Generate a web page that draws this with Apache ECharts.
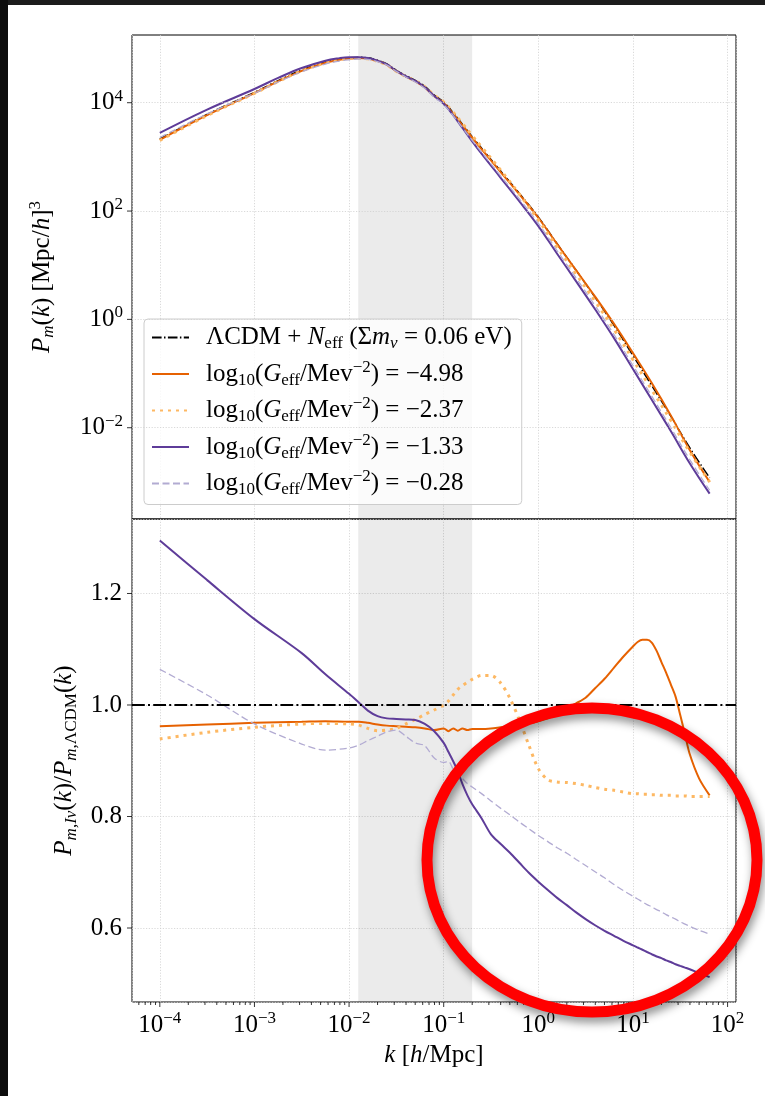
<!DOCTYPE html>
<html>
<head>
<meta charset="utf-8">
<script src="https://cdn.jsdelivr.net/npm/echarts@6.0.0/dist/echarts.min.js"></script>
<style>
  html, body { margin: 0; padding: 0; background: #ffffff; }
  #chart { width: 765px; height: 1096px; }
</style>
</head>
<body>
<div id="chart"></div>
<script>
// ---- matter power spectrum P_m(k) [ (Mpc/h)^3 ] ----
const kTop = [1.00e-4, 3.16e-4, 1.00e-3, 1.78e-3, 3.16e-3, 5.62e-3, 7.94e-3, 1.00e-2, 1.26e-2, 1.58e-2, 2.00e-2,
  2.51e-2, 3.16e-2, 3.98e-2, 5.01e-2, 6.31e-2, 7.94e-2, 0.100, 0.126, 0.158, 0.200, 0.251, 0.398, 0.631,
  1.00, 1.58, 2.51, 3.98, 6.31, 10.0, 15.8, 25.1, 39.8, 64.6];
const pLCDM = [2138, 6095, 15520, 25530, 40000, 56230, 63970, 67300, 69020, 67300, 60670, 52000, 39630, 31620,
  25880, 19950, 13900, 10300, 6531, 3981, 2366, 1455, 553, 211, 77.4, 24.9, 8.02, 2.55, 0.774, 0.215, 0.0600,
  0.0163, 0.00427, 0.00119];
const pG498 = [2057, 5882, 15020, 24740, 38800, 54600, 62050, 65280, 66950, 65150, 58550, 50080, 38120, 30390,
  24840, 19110, 13290, 9857, 6257, 3814, 2264, 1392, 531, 203, 75.2, 24.5, 8.04, 2.63, 0.826, 0.238, 0.0667,
  0.0169, 0.00389, 0.000997];
const pG237 = [2008, 5796, 14900, 24590, 38640, 54370, 61800, 65010, 66540, 64470, 57880, 49660, 37970, 30550,
  25210, 19610, 13770, 10300, 6649, 4120, 2475, 1532, 575, 205, 68.6, 21.5, 6.89, 2.17, 0.656, 0.181, 0.0503,
  0.0137, 0.00357, 0.000995];
const pG133 = [2769, 7460, 17910, 28670, 43720, 59720, 66530, 69180, 69370, 66960, 59760, 50860, 38640, 30800,
  25180, 19270, 13250, 9600, 5871, 3416, 1940, 1149, 416, 151, 52.8, 16.3, 5.04, 1.54, 0.451, 0.121, 0.0329,
  0.00867, 0.00221, 0.000606];
const pG028 = [2275, 6205, 14990, 24130, 37200, 51680, 58920, 62120, 64050, 62990, 57270, 49500, 37850, 29850,
  24120, 18490, 12580, 9239, 5780, 3456, 2018, 1224, 451, 167, 59.3, 18.5, 5.81, 1.79, 0.524, 0.141, 0.0383,
  0.0101, 0.00258, 0.000701];

// ---- ratio to the LCDM spectrum ----
const kRatio = [1.00e-4, 3.16e-4, 1.00e-3, 3.16e-3, 5.62e-3,
  1.00e-2, 1.26e-2, 1.58e-2, 2.00e-2, 2.51e-2, 3.16e-2, 3.98e-2, 5.01e-2, 6.31e-2, 7.94e-2,
  0.100, 0.112, 0.126, 0.141, 0.158, 0.178, 0.200,
  0.251, 0.316, 0.398, 0.501, 0.631, 0.794,
  1.00, 1.26, 1.58, 2.00, 2.51, 3.16, 3.98, 5.01, 6.31, 7.94,
  10.0, 11.2, 12.6, 14.1, 15.8, 17.8, 20.0, 22.4, 25.1, 28.2, 31.6, 35.5, 39.8,
  50.1, 64.6];
const rG498 = [0.962, 0.965, 0.968, 0.970, 0.971,
  0.970, 0.970, 0.968, 0.965, 0.963, 0.962, 0.961, 0.960, 0.958, 0.955,
  0.958, 0.953, 0.958, 0.954, 0.958, 0.955, 0.957,
  0.957, 0.958, 0.960, 0.962, 0.964, 0.967,
  0.971, 0.976, 0.985, 0.994, 1.003, 1.013, 1.030, 1.047, 1.067, 1.087,
  1.105, 1.113, 1.117, 1.117, 1.112, 1.097, 1.077, 1.058, 1.037, 1.015, 0.982, 0.947, 0.912,
  0.868, 0.838];
const rG237 = [0.939, 0.951, 0.960, 0.966, 0.967,
  0.966, 0.964, 0.958, 0.954, 0.955, 0.958, 0.966, 0.974, 0.983, 0.991,
  1.000, 1.007, 1.018, 1.028, 1.035, 1.041, 1.046,
  1.053, 1.053, 1.040, 1.012, 0.973, 0.928,
  0.886, 0.866, 0.862, 0.861, 0.859, 0.856, 0.852, 0.849, 0.847, 0.844,
  0.841, 0.841, 0.840, 0.840, 0.839, 0.839, 0.838, 0.838, 0.838, 0.837, 0.837, 0.837, 0.836,
  0.836, 0.836];
const rG133 = [1.295, 1.224, 1.154, 1.093, 1.055,
  1.020, 1.005, 0.990, 0.980, 0.976, 0.975, 0.974, 0.973, 0.966, 0.953,
  0.932, 0.916, 0.899, 0.881, 0.858, 0.838, 0.822,
  0.797, 0.768, 0.751, 0.735, 0.717, 0.699,
  0.683, 0.668, 0.654, 0.641, 0.628, 0.616, 0.605, 0.595, 0.586, 0.577,
  0.569, 0.565, 0.561, 0.557, 0.553, 0.549, 0.546, 0.542, 0.539, 0.535, 0.532, 0.529, 0.526,
  0.519, 0.512];
const rG028 = [1.064, 1.018, 0.966, 0.930, 0.919,
  0.923, 0.928, 0.936, 0.944, 0.952, 0.955, 0.944, 0.932, 0.927, 0.905,
  0.897, 0.899, 0.885, 0.876, 0.868, 0.859, 0.853,
  0.841, 0.828, 0.815, 0.803, 0.790, 0.778,
  0.766, 0.755, 0.744, 0.734, 0.723, 0.712, 0.701, 0.690, 0.678, 0.667,
  0.657, 0.652, 0.647, 0.642, 0.638, 0.633, 0.629, 0.624, 0.620, 0.616, 0.611, 0.607, 0.603,
  0.596, 0.589];
const ratioLCDM = 1.0;

// shaded k range and tick positions
const kBand = [0.0125, 0.2];
const topYTicks = [1e-2, 1e0, 1e2, 1e4];
const bottomYTicks = [0.6, 0.8, 1.0, 1.2];
const kMajorTicks = [1e-4, 1e-3, 1e-2, 1e-1, 1e0, 1e1, 1e2];
const kMinorTicks = [];
for (let e = -5; e <= 1; e++) {
  for (let m = 2; m <= 9; m++) kMinorTicks.push(m * Math.pow(10, e));
}

// axis ranges
const kMin = Math.pow(10, -4.294), kMax = Math.pow(10, 2.089);
const pMin = Math.pow(10, -3.685), pMax = Math.pow(10, 5.25);
const rMin = 0.4673, rMax = 1.3336;

const F = '"Liberation Serif", "DejaVu Serif", serif';
const FS = 25;
const SS = 17;

const colors = { lcdm: '#000000', g498: '#e66101', g237: '#fdb863', g133: '#5e3c99', g028: '#b2abd2' };
const styles = {
  lcdmTop: { color: colors.lcdm, width: 1.5, type: [9.6, 2.4, 1.5, 2.4] },
  lcdmBot: { color: colors.lcdm, width: 2, type: [12.8, 3.2, 2, 3.2] },
  g498: { color: colors.g498, width: 2 },
  g237: { color: colors.g237, width: 3, type: [3, 5] },
  g133: { color: colors.g133, width: 2 },
  g028: { color: colors.g028, width: 1.3, type: [7, 3.5] }
};

const zip = (xs, ys) => xs.map((x, i) => [x, ys[i]]);
const supStr = e => (e < 0 ? '\u2212' + (-e) : String(e));
const isDecade = v => Math.abs(Math.log10(v) - Math.round(Math.log10(v))) < 1e-6;

const richText = {
  n: { fontFamily: F, fontSize: FS, lineHeight: 30, color: '#000' },
  i: { fontFamily: F, fontSize: FS, fontStyle: 'italic', lineHeight: 30, color: '#000' },
  sub: { fontFamily: F, fontSize: SS, lineHeight: SS, verticalAlign: 'bottom', color: '#000' },
  subi: { fontFamily: F, fontSize: SS, fontStyle: 'italic', lineHeight: SS, verticalAlign: 'bottom', color: '#000' },
  sup: { fontFamily: F, fontSize: SS, lineHeight: SS, verticalAlign: 'top', color: '#000' },
  gap: { width: 12 },
  b: { fontFamily: F, fontSize: FS, lineHeight: 30, color: '#000' },
  s: { fontFamily: F, fontSize: SS, lineHeight: SS, verticalAlign: 'top', color: '#000' }
};

const legendText = {
  lcdm: '{gap|}{n|\u039BCDM + }{i|N}{sub|eff}{n| (\u03A3}{i|m}{subi|\u03BD}{n| = 0.06 eV)}',
  g498: '{gap|}{n|log}{sub|10}{n|(}{i|G}{sub|eff}{n|/Mev}{sup|\u22122}{n|) = \u22124.98}',
  g237: '{gap|}{n|log}{sub|10}{n|(}{i|G}{sub|eff}{n|/Mev}{sup|\u22122}{n|) = \u22122.37}',
  g133: '{gap|}{n|log}{sub|10}{n|(}{i|G}{sub|eff}{n|/Mev}{sup|\u22122}{n|) = \u22121.33}',
  g028: '{gap|}{n|log}{sub|10}{n|(}{i|G}{sub|eff}{n|/Mev}{sup|\u22122}{n|) = \u22120.28}'
};

const gridLine = { show: true, lineStyle: { color: '#cfcfcf', width: 0.8, type: [1.2, 1.6] } };

function lineSeries(name, xi, data, ls, smooth, extra) {
  return Object.assign({
    name: name, type: 'line', xAxisIndex: xi, yAxisIndex: xi, data: data,
    symbol: 'none', showSymbol: false, smooth: smooth, silent: true,
    lineStyle: ls, itemStyle: { color: ls.color }
  }, extra || {});
}

const band = {
  silent: true,
  itemStyle: { color: 'rgba(0,0,0,0.08)' },
  data: [[{ xAxis: kBand[0] }, { xAxis: kBand[1] }]]
};

// short outward tick marks drawn through the axis scales
function xTicks(gridIdx, values, len) {
  return {
    type: 'custom', xAxisIndex: gridIdx, yAxisIndex: gridIdx, silent: true, clip: false,
    data: values.filter(k => k > kMin && k < kMax).map(k => [k, 1]),
    renderItem: (params, api) => {
      const cs = params.coordSys;
      const x = api.coord([api.value(0), 1])[0];
      const yb = cs.y + cs.height;
      return { type: 'line', shape: { x1: x, y1: yb, x2: x, y2: yb + len }, style: { stroke: '#000', lineWidth: 0.8 } };
    }
  };
}
function yTicks(gridIdx, values, len) {
  return {
    type: 'custom', xAxisIndex: gridIdx, yAxisIndex: gridIdx, silent: true, clip: false,
    data: values.map(v => [1, v]),
    renderItem: (params, api) => {
      const cs = params.coordSys;
      const y = api.coord([1, api.value(1)])[1];
      return { type: 'line', shape: { x1: cs.x - len, y1: y, x2: cs.x, y2: y }, style: { stroke: '#000', lineWidth: 0.8 } };
    }
  };
}

const chart = echarts.init(document.getElementById('chart'), null, { renderer: 'canvas' });

chart.setOption({
  animation: false,
  backgroundColor: '#ffffff',
  grid: [
    { left: 132, top: 35, width: 604, height: 484, show: true, borderColor: '#000', borderWidth: 1, backgroundColor: 'transparent' },
    { left: 132, top: 519, width: 604, height: 483, show: true, borderColor: '#000', borderWidth: 1, backgroundColor: 'transparent' }
  ],
  xAxis: [
    {
      gridIndex: 0, type: 'log', min: kMin, max: kMax,
      axisLine: { show: false }, axisTick: { show: false }, axisLabel: { show: false },
      splitLine: gridLine
    },
    {
      gridIndex: 1, type: 'log', min: kMin, max: kMax,
      axisLine: { show: false },
      axisTick: { show: false },
      axisLabel: {
        margin: 8, fontFamily: F, fontSize: FS, color: '#000', rich: richText,
        formatter: v => isDecade(v) ? '{b|10}{s|' + supStr(Math.round(Math.log10(v))) + '}' : ''
      },
      splitLine: gridLine,
      name: '{i|k}{n| [}{i|h}{n|/Mpc]}',
      nameLocation: 'middle', nameGap: 38,
      nameTextStyle: { rich: richText, fontFamily: F, fontSize: FS }
    }
  ],
  yAxis: [
    {
      gridIndex: 0, type: 'log', min: pMin, max: pMax,
      axisLine: { show: false }, axisTick: { show: false },
      splitLine: { show: false },
      axisLabel: {
        margin: 9, fontFamily: F, fontSize: FS, color: '#000', rich: richText,
        formatter: v => {
          if (!isDecade(v)) return '';
          const e = Math.round(Math.log10(v));
          return Math.abs(e % 2) === 0 ? '{b|10}{s|' + supStr(e) + '}' : '';
        }
      },
      name: '{i|P}{subi|m}{n|(}{i|k}{n|) [Mpc/}{i|h}{n|]}{sup|3}',
      nameLocation: 'middle', nameRotate: 90, nameGap: 75,
      nameTextStyle: { rich: richText, fontFamily: F, fontSize: FS }
    },
    {
      gridIndex: 1, type: 'value', min: rMin, max: rMax,
      axisLine: { show: false },
      axisTick: { show: false },
      splitLine: gridLine,
      axisLabel: {
        margin: 10, fontFamily: F, fontSize: FS, color: '#000',
        formatter: v => Math.abs(v * 5 - Math.round(v * 5)) < 1e-6 ? v.toFixed(1) : ''
      },
      name: '{i|P}{subi|m,I\u03BD}{n|(}{i|k}{n|)/}{i|P}{subi|m,}{sub|\u039BCDM}{n|(}{i|k}{n|)}',
      nameLocation: 'middle', nameRotate: 90, nameGap: 49,
      nameTextStyle: { rich: richText, fontFamily: F, fontSize: FS }
    }
  ],
  legend: {
    orient: 'vertical', left: 144, top: 319,
    padding: [6, 10, 6, 7], itemGap: 6.5, itemWidth: 37, itemHeight: 14,
    backgroundColor: 'rgba(255,255,255,0.8)', borderColor: '#cccccc', borderWidth: 1, borderRadius: 4,
    selectedMode: false,
    itemStyle: { opacity: 0 },
    data: ['lcdm', 'g498', 'g237', 'g133', 'g028'],
    formatter: name => legendText[name],
    textStyle: { fontFamily: F, fontSize: FS, color: '#000', rich: richText }
  },
  series: [
    // upper panel: power spectra
    lineSeries('lcdm', 0, zip(kTop, pLCDM), styles.lcdmTop, 0.4, {
      markArea: band,
      markLine: {
        silent: true, symbol: ['none', 'none'], label: { show: false },
        lineStyle: { color: '#cfcfcf', width: 0.8, type: [1.2, 1.6] },
        data: topYTicks.map(v => ({ yAxis: v }))
      }
    }),
    lineSeries('g498', 0, zip(kTop, pG498), styles.g498, 0.4),
    lineSeries('g237', 0, zip(kTop, pG237), styles.g237, 0.4),
    lineSeries('g133', 0, zip(kTop, pG133), styles.g133, 0.4),
    lineSeries('g028', 0, zip(kTop, pG028), styles.g028, 0.4),
    // lower panel: ratios to LCDM
    lineSeries('r498', 1, zip(kRatio, rG498), styles.g498, 0.3, {
      markArea: band,
      markLine: {
        silent: true, symbol: ['none', 'none'], label: { show: false },
        lineStyle: styles.lcdmBot,
        data: [{ yAxis: ratioLCDM }]
      }
    }),
    lineSeries('r237', 1, zip(kRatio, rG237), styles.g237, 0.3),
    lineSeries('r133', 1, zip(kRatio, rG133), styles.g133, 0.3),
    lineSeries('r028', 1, zip(kRatio, rG028), styles.g028, 0.3),
    // tick marks
    xTicks(1, kMajorTicks, 5),
    xTicks(1, kMinorTicks, 3),
    yTicks(0, topYTicks, 5),
    yTicks(1, bottomYTicks, 5)
  ],
  graphic: [
    { type: 'rect', left: 0, top: 0, shape: { width: 765, height: 5 }, style: { fill: '#1c1c1c' }, silent: true, z: 50 },
    { type: 'rect', left: 0, top: 0, shape: { width: 8, height: 1096 }, style: { fill: '#0d0d0d' }, silent: true, z: 50 },
    {
      type: 'ellipse', silent: true, z: 100,
      shape: { cx: 592, cy: 860, rx: 165, ry: 152 },
      style: {
        fill: 'none', stroke: '#ff0000', lineWidth: 11,
        shadowBlur: 10, shadowColor: 'rgba(0,0,0,0.45)', shadowOffsetX: 2, shadowOffsetY: 5
      }
    }
  ]
});
</script>
</body>
</html>
